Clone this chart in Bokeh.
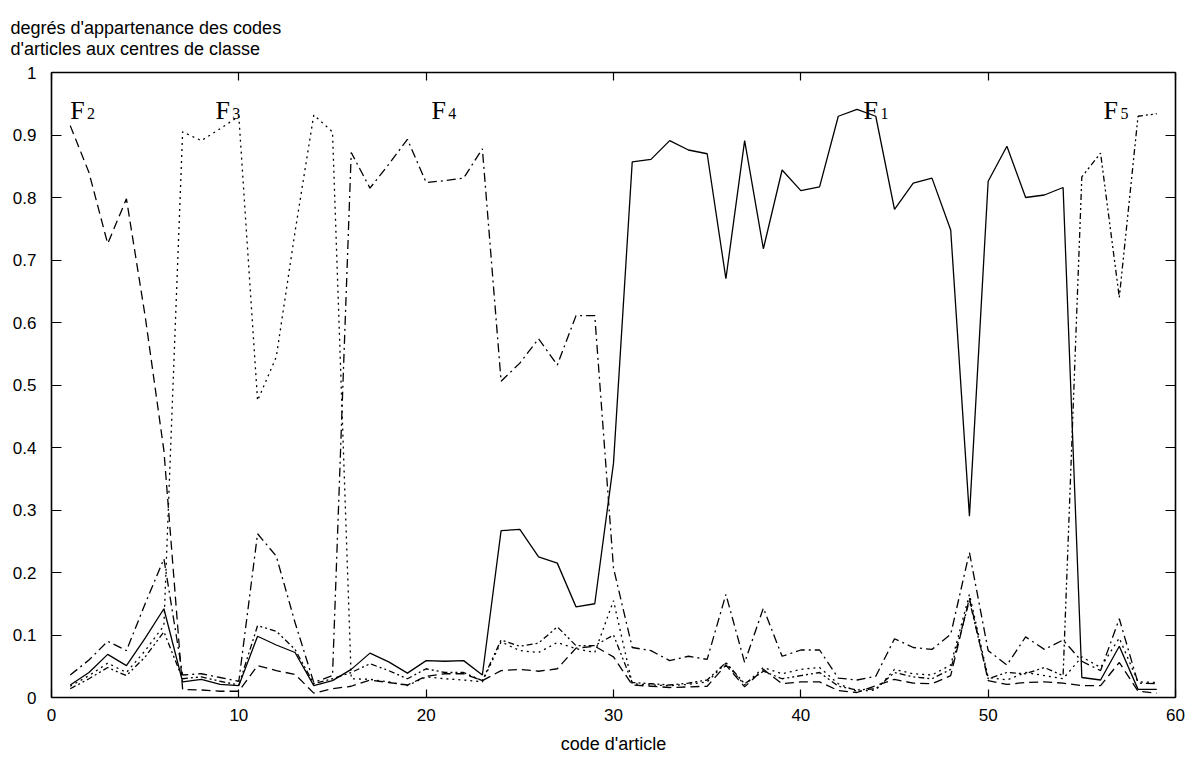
from bokeh.plotting import figure
from bokeh.models import Range1d, LinearAxis, FixedTicker, Label, Title
from bokeh.embed import file_html
from bokeh.resources import INLINE

# code d'article
codes = list(range(1, 60))

# degrés d'appartenance aux centres de classe F1..F5
F1 = [0.020, 0.040, 0.069, 0.051, 0.095, 0.142, 0.025, 0.029, 0.021, 0.019,
      0.098, 0.084, 0.072, 0.019, 0.027, 0.045, 0.071, 0.057, 0.039, 0.059,
      0.058, 0.059, 0.036, 0.267, 0.269, 0.225, 0.215, 0.145, 0.150, 0.375,
      0.857, 0.861, 0.891, 0.876, 0.870, 0.670, 0.891, 0.718, 0.844, 0.811,
      0.817, 0.930, 0.941, 0.930, 0.781, 0.823, 0.831, 0.748, 0.290, 0.826,
      0.882, 0.800, 0.804, 0.816, 0.032, 0.028, 0.082, 0.013, 0.013]
F2 = [0.915, 0.840, 0.726, 0.798, 0.610, 0.395, 0.013, 0.012, 0.010, 0.010,
      0.051, 0.043, 0.037, 0.007, 0.014, 0.018, 0.028, 0.024, 0.020, 0.034,
      0.038, 0.038, 0.027, 0.043, 0.045, 0.042, 0.046, 0.079, 0.082, 0.065,
      0.020, 0.018, 0.016, 0.017, 0.018, 0.052, 0.017, 0.045, 0.022, 0.025,
      0.025, 0.011, 0.008, 0.019, 0.029, 0.023, 0.022, 0.035, 0.159, 0.027,
      0.021, 0.024, 0.025, 0.023, 0.019, 0.019, 0.056, 0.010, 0.007]
F3 = [0.018, 0.035, 0.055, 0.040, 0.075, 0.115, 0.905, 0.891, 0.910, 0.930,
      0.475, 0.545, 0.745, 0.932, 0.905, 0.030, 0.029, 0.025, 0.019, 0.033,
      0.030, 0.028, 0.025, 0.089, 0.075, 0.072, 0.088, 0.078, 0.072, 0.155,
      0.022, 0.020, 0.019, 0.021, 0.025, 0.055, 0.020, 0.048, 0.038, 0.045,
      0.048, 0.022, 0.010, 0.012, 0.045, 0.038, 0.036, 0.052, 0.165, 0.032,
      0.028, 0.040, 0.035, 0.030, 0.065, 0.048, 0.095, 0.025, 0.024]
F4 = [0.036, 0.060, 0.090, 0.075, 0.150, 0.222, 0.036, 0.038, 0.032, 0.026,
      0.262, 0.226, 0.120, 0.024, 0.035, 0.872, 0.815, 0.853, 0.893, 0.824,
      0.827, 0.831, 0.878, 0.506, 0.535, 0.574, 0.532, 0.611, 0.611, 0.207,
      0.080, 0.075, 0.059, 0.066, 0.061, 0.165, 0.056, 0.143, 0.066, 0.076,
      0.076, 0.031, 0.028, 0.034, 0.094, 0.080, 0.077, 0.101, 0.232, 0.075,
      0.052, 0.097, 0.077, 0.092, 0.058, 0.043, 0.126, 0.023, 0.022]
F5 = [0.014, 0.030, 0.048, 0.035, 0.065, 0.105, 0.030, 0.033, 0.026, 0.020,
      0.115, 0.106, 0.077, 0.022, 0.030, 0.040, 0.054, 0.043, 0.030, 0.046,
      0.040, 0.040, 0.027, 0.092, 0.082, 0.087, 0.113, 0.083, 0.083, 0.100,
      0.024, 0.022, 0.020, 0.023, 0.028, 0.056, 0.022, 0.042, 0.030, 0.035,
      0.040, 0.018, 0.012, 0.014, 0.040, 0.033, 0.030, 0.045, 0.155, 0.030,
      0.040, 0.038, 0.048, 0.035, 0.833, 0.871, 0.640, 0.930, 0.934]

x_ticks = [0, 10, 20, 30, 40, 50, 60]
x_tick_labels = ["0", "10", "20", "30", "40", "50", "60"]
y_ticks = [0, 0.1, 0.2, 0.3, 0.4, 0.5, 0.6, 0.7, 0.8, 0.9, 1]
y_tick_labels = ["0", "0.1", "0.2", "0.3", "0.4", "0.5", "0.6", "0.7", "0.8", "0.9", "1"]

title_lines = ["degrés d'appartenance des codes", "d'articles aux centres de classe"]
x_label = "code d'article"

# class-centre tags: (letter, subscript, x position of the letter)
tags = [("F", "2", 1.0), ("F", "3", 8.75), ("F", "4", 20.28), ("F", "1", 43.35), ("F", "5", 56.16)]
tag_y = 0.939

SANS = "Liberation Sans"
SERIF = "Liberation Serif"

p = figure(width=1193, height=758, output_backend="svg", toolbar_location=None,
           x_range=Range1d(0, 60), y_range=Range1d(0, 1),
           min_border_left=51, min_border_right=18, min_border_top=72, min_border_bottom=61,
           background_fill_color="white", border_fill_color="white")
p.outline_line_color = None
p.grid.visible = False


def style_axis(ax, ticks, labels, tick_len, show_labels):
    ax.ticker = FixedTicker(ticks=ticks)
    ax.major_tick_in = tick_len
    ax.major_tick_out = 0
    ax.minor_tick_line_color = None
    ax.axis_line_color = "black"
    ax.axis_line_width = 1.6
    ax.major_tick_line_color = "black"
    ax.major_tick_line_width = 1.2
    ax.major_label_text_font = SANS
    if show_labels:
        ax.major_label_overrides = {t: s for t, s in zip(ticks, labels)}
        ax.major_label_text_font_size = "17px"
        ax.major_label_text_color = "black"
    else:
        # frame side only: ticks without labels
        ax.major_label_text_font_size = "1px"
        ax.major_label_text_color = None
        ax.major_label_standoff = 0


xa = p.xaxis[0]
ya = p.yaxis[0]
style_axis(xa, x_ticks, x_tick_labels, 8, True)
style_axis(ya, y_ticks, y_tick_labels, 10, True)
xa.major_label_standoff = 11
ya.major_label_standoff = 15
xa.axis_label = x_label
xa.axis_label_text_font = SANS
xa.axis_label_text_font_size = "18px"
xa.axis_label_text_font_style = "normal"
xa.axis_label_text_color = "black"
xa.axis_label_standoff = 10

top = LinearAxis()
right = LinearAxis()
style_axis(top, x_ticks, x_tick_labels, 8, False)
style_axis(right, y_ticks, y_tick_labels, 10, False)
p.add_layout(top, "above")
p.add_layout(right, "right")

# two-line heading above the frame, flush with the page's left side
title = Title(text="\n".join(title_lines), align="left", offset=-41,
              vertical_align="top", standoff=24,
              text_font=SANS, text_font_size="18px", text_font_style="normal",
              text_line_height=1.06, text_color="black")
p.add_layout(title, "above")

series = [
    (F1, "solid"),
    (F2, "9 5"),
    (F3, "2 4"),
    (F4, "9 4 2 4"),
    (F5, "6 3 2 3 2 3"),
]
for vals, dash in series:
    p.line(codes, vals, line_color="black", line_width=1.3, line_dash=dash)

for letter, sub, tx in tags:
    p.add_layout(Label(x=tx, y=tag_y, text=letter, text_font=SERIF, text_font_size="26px",
                       text_color="black", text_align="left", text_baseline="alphabetic"))
    p.add_layout(Label(x=tx + 0.9, y=tag_y - 0.005, text=sub, text_font=SERIF,
                       text_font_size="16px", text_color="black", text_align="left",
                       text_baseline="alphabetic"))

open("out.html", "w").write(file_html(p, INLINE))
